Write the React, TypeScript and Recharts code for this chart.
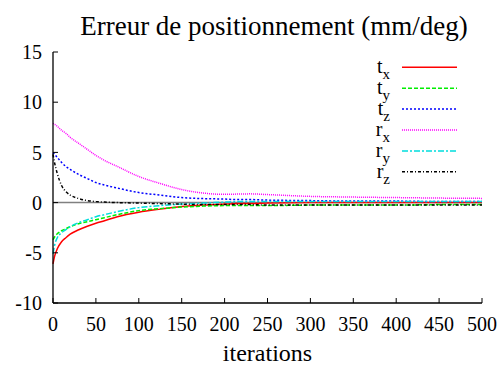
import React from 'react';
import { LineChart, Line, XAxis, YAxis, ReferenceLine } from 'recharts';

// iterations sampled along the x axis
const iterations = [0, 2, 5, 10, 15, 20, 30, 40, 50, 60, 75, 100, 125, 150, 175, 200, 215, 230, 250, 300, 350, 400, 450, 500];

// error curves
const tx = [-6.1, -5.3, -4.6, -3.9, -3.5, -3.15, -2.7, -2.35, -2.05, -1.8, -1.4, -0.95, -0.65, -0.4, -0.25, -0.15, -0.1, -0.1, -0.05, 0, 0, 0, 0, 0];
const ty = [-3.7, -3.4, -3.1, -2.8, -2.6, -2.4, -2.1, -1.9, -1.7, -1.5, -1.2, -0.8, -0.6, -0.45, -0.35, -0.3, -0.3, -0.3, -0.3, -0.25, -0.25, -0.25, -0.2, -0.2];
const tz = [5.0, 4.8, 4.5, 4.0, 3.6, 3.3, 2.8, 2.4, 2.0, 1.75, 1.45, 1.0, 0.75, 0.5, 0.4, 0.35, 0.3, 0.3, 0.25, 0.2, 0.15, 0.15, 0.1, 0.1];
const rx = [7.9, 7.8, 7.6, 7.2, 6.9, 6.5, 5.9, 5.3, 4.7, 4.2, 3.6, 2.6, 1.9, 1.3, 0.95, 0.82, 0.85, 0.87, 0.8, 0.62, 0.55, 0.5, 0.45, 0.42];
const ry = [-5.1, -4.2, -3.5, -3.0, -2.7, -2.4, -2.0, -1.7, -1.4, -1.2, -0.9, -0.5, -0.3, -0.15, -0.05, 0.05, 0.1, 0.1, 0.1, 0.1, 0.1, 0.1, 0.1, 0.1];
const rz = [4.8, 3.9, 2.9, 1.7, 1.1, 0.75, 0.4, 0.2, 0.1, 0.05, 0, -0.05, -0.1, -0.15, -0.2, -0.2, -0.2, -0.2, -0.25, -0.25, -0.25, -0.25, -0.25, -0.25];

const xTicks = [0, 50, 100, 150, 200, 250, 300, 350, 400, 450, 500];
const yTicks = [-10, -5, 0, 5, 10, 15];

const series = [
  { key: 'tx', base: 't', sub: 'x', color: '#ff0000', dash: undefined },
  { key: 'ty', base: 't', sub: 'y', color: '#00ee00', dash: '4 2' },
  { key: 'tz', base: 't', sub: 'z', color: '#0000ff', dash: '2 2' },
  { key: 'rx', base: 'r', sub: 'x', color: '#ff00ff', dash: '1 1' },
  { key: 'ry', base: 'r', sub: 'y', color: '#00dddd', dash: '6 2 2 2' },
  { key: 'rz', base: 'r', sub: 'z', color: '#000000', dash: '3 2 1 2' },
];

const values: Record<string, number[]> = { tx, ty, tz, rx, ry, rz };

const data = iterations.map((it, i) => {
  const row: Record<string, number> = { it };
  series.forEach(s => { row[s.key] = values[s.key][i]; });
  return row;
});

const FONT = "'Liberation Serif', 'Times New Roman', Times, 'DejaVu Serif', serif";
const txt = { fontFamily: FONT };

export default function App() {
  return (
    <div style={{ position: 'absolute', left: 0, top: 0, width: 500, height: 369, background: '#fff', fontFamily: FONT }}>
      <LineChart width={500} height={369} data={data} margin={{ top: 52, right: 18, left: 0, bottom: 0 }} style={txt}>
        <XAxis
          dataKey="it" type="number" domain={[0, 500]} ticks={xTicks} height={66}
          axisLine={{ stroke: '#000', strokeWidth: 1.3 }} tickLine={{ stroke: '#000' }}
          tickSize={-5} tickMargin={19}
          tick={{ fill: '#000', fontSize: 20, fontFamily: FONT }}
          label={{ value: 'iterations', position: 'insideBottom', offset: 8, fill: '#000', fontSize: 24, fontFamily: FONT }}
        />
        <XAxis
          xAxisId="top" orientation="top" dataKey="it" type="number" domain={[0, 500]} ticks={xTicks} height={0}
          axisLine={{ stroke: '#000', strokeWidth: 1.3 }} tickLine={{ stroke: '#000' }} tickSize={-5} tick={false}
        />
        <YAxis
          type="number" domain={[-10, 15]} ticks={yTicks} width={53}
          axisLine={{ stroke: '#000', strokeWidth: 1.3 }} tickLine={{ stroke: '#000' }}
          tickSize={-5} tickMargin={16}
          tick={{ fill: '#000', fontSize: 20, fontFamily: FONT }}
        />
        <YAxis
          yAxisId="right" orientation="right" type="number" domain={[-10, 15]} ticks={yTicks} width={0}
          axisLine={{ stroke: '#000', strokeWidth: 1.3 }} tickLine={{ stroke: '#000' }} tickSize={-5} tick={false}
        />
        <ReferenceLine y={0} stroke="#808080" strokeWidth={1.5} />
        {series.map(s => (
          <Line
            key={s.key} type="monotone" dataKey={s.key} stroke={s.color} strokeWidth={1.5}
            strokeDasharray={s.dash} dot={false} isAnimationActive={false}
          />
        ))}
      </LineChart>
      <svg width={500} height={369} style={{ position: 'absolute', left: 0, top: 0, pointerEvents: 'none' }}>
        <text x={274} y={35} textAnchor="middle" fontSize={27} fontFamily={FONT} fill="#000">
          Erreur de positionnement (mm/deg)
        </text>
        {series.map((s, i) => {
          const yy = 67.3 + i * 20.9;
          return (
            <g key={s.key}>
              <text x={390} y={yy + 6} textAnchor="end" fontSize={20} fontFamily={FONT} fill="#000">
                {s.base}
                <tspan dy={6} fontSize={15}>{s.sub}</tspan>
              </text>
              <line x1={402} x2={457} y1={yy} y2={yy} stroke={s.color} strokeWidth={1.5} strokeDasharray={s.dash} />
            </g>
          );
        })}
      </svg>
    </div>
  );
}
